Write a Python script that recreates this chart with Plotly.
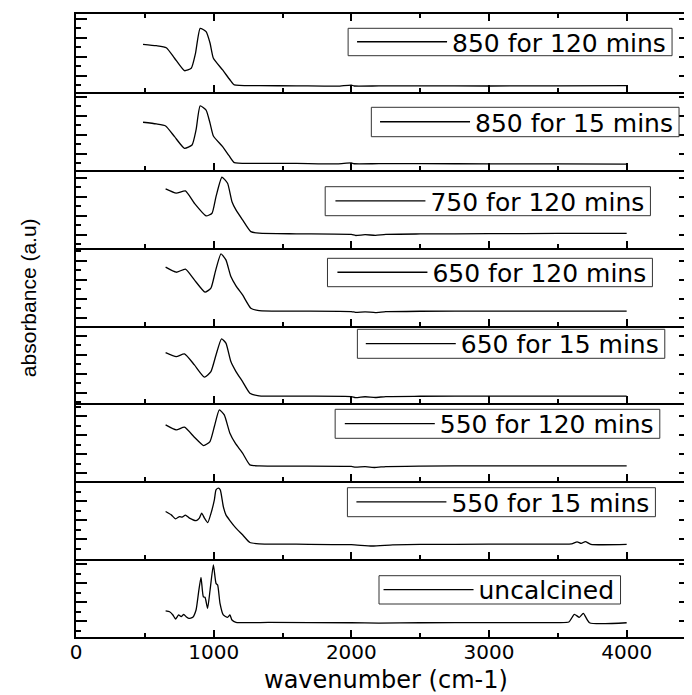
import plotly.graph_objects as go
from plotly.subplots import make_subplots

labels = ["850 for 120 mins", "850 for 15 mins", "750 for 120 mins", "650 for 120 mins",
          "650 for 15 mins", "550 for 120 mins", "550 for 15 mins", "uncalcined"]

wn_850_120 = [487, 583, 656, 716, 788, 837, 868, 902, 945, 974, 998, 1065, 1119, 1150, 1330, 1600, 1900, 2000, 2020, 2200, 2500, 3000, 3500, 4000]
ab_850_120 = [5.01, 4.86, 4.65, 3.54, 2.23, 2.48, 4.06, 6.69, 6.34, 5.12, 3.54, 2.31, 1.25, 0.73, 0.65, 0.64, 0.6, 0.72, 0.62, 0.63, 0.63, 0.62, 0.63, 0.65]

wn_850_15 = [487, 583, 651, 716, 788, 843, 872, 902, 945, 974, 998, 1065, 1113, 1150, 1330, 1600, 1900, 2000, 2020, 2200, 2500, 3000, 3500, 4000]
ab_850_15 = [5.0, 4.82, 4.61, 3.48, 2.26, 2.61, 4.19, 6.72, 6.29, 4.89, 3.56, 2.43, 1.45, 0.75, 0.68, 0.67, 0.62, 0.72, 0.63, 0.64, 0.64, 0.62, 0.62, 0.6]

wn_750_120 = [651, 728, 795, 860, 945, 988, 1017, 1060, 1101, 1133, 1162, 1210, 1270, 1330, 1600, 2000, 2030, 2100, 2175, 2250, 2500, 3000, 3500, 4000]
ab_750_120 = [6.18, 5.73, 5.97, 4.67, 3.34, 3.62, 5.37, 7.41, 6.78, 4.84, 3.97, 2.92, 1.68, 1.52, 1.45, 1.39, 1.28, 1.36, 1.3, 1.4, 1.44, 1.47, 1.49, 1.5]

wn_650_120 = [651, 728, 795, 860, 937, 980, 1012, 1053, 1089, 1125, 1162, 1210, 1270, 1330, 1600, 2000, 2030, 2100, 2175, 2250, 2500, 3000, 3500, 4000]
ab_650_120 = [6.14, 5.61, 5.93, 4.8, 3.51, 3.93, 5.67, 7.54, 6.91, 5.15, 4.17, 3.22, 1.82, 1.57, 1.52, 1.47, 1.38, 1.44, 1.36, 1.45, 1.5, 1.52, 1.52, 1.52]

wn_650_15 = [651, 728, 788, 860, 933, 980, 1017, 1057, 1089, 1125, 1162, 1210, 1263, 1330, 1600, 2000, 2030, 2100, 2175, 2250, 2500, 3000, 3500, 4000]
ab_650_15 = [5.35, 4.93, 5.21, 4.05, 2.76, 3.35, 5.1, 6.79, 6.34, 4.4, 3.35, 2.29, 1.07, 0.79, 0.76, 0.72, 0.6, 0.7, 0.62, 0.72, 0.75, 0.77, 0.77, 0.76]

wn_550_120 = [651, 728, 788, 860, 927, 973, 1005, 1041, 1077, 1118, 1157, 1210, 1263, 1330, 1600, 2000, 2030, 2100, 2175, 2250, 2500, 3000, 3500, 4000]
ab_550_120 = [5.94, 5.41, 5.69, 4.64, 3.76, 4.18, 5.76, 7.52, 6.99, 5.06, 4.01, 2.96, 1.73, 1.62, 1.6, 1.56, 1.48, 1.54, 1.45, 1.55, 1.6, 1.62, 1.62, 1.62]

wn_550_15 = [651, 692, 723, 752, 771, 795, 824, 873, 896, 913, 933, 957, 981, 1005, 1017, 1034, 1048, 1070, 1089, 1118, 1162, 1210, 1263, 1330, 1600, 2000, 2150, 2300, 2500, 3000, 3500, 3600, 3640, 3670, 3700, 3740, 4000]
ab_550_15 = [5.01, 4.66, 4.24, 4.48, 4.42, 4.63, 4.32, 4.06, 4.32, 4.84, 4.32, 3.85, 4.84, 6.24, 7.29, 7.47, 7.29, 5.54, 4.66, 4.06, 3.26, 2.56, 1.75, 1.61, 1.57, 1.52, 1.38, 1.5, 1.55, 1.57, 1.58, 1.6, 1.82, 1.65, 1.85, 1.56, 1.55]

wn_uncal = [651, 680, 704, 723, 745, 764, 783, 800, 819, 848, 872, 891, 908, 925, 937, 956, 974, 998, 1017, 1029, 1046, 1070, 1101, 1118, 1133, 1162, 1400, 2000, 2200, 2500, 3000, 3500, 3580, 3620, 3656, 3685, 3730, 4000]
ab_uncal = [2.74, 2.66, 2.32, 1.89, 2.32, 2.14, 2.39, 2.14, 1.97, 2.07, 2.84, 4.77, 6.28, 4.24, 4.18, 3.02, 4.95, 7.58, 5.65, 5.47, 3.55, 2.32, 2.07, 2.32, 1.79, 1.55, 1.53, 1.5, 1.47, 1.5, 1.52, 1.52, 1.58, 2.39, 2.07, 2.49, 1.5, 1.5]

series = [(wn_850_120, ab_850_120), (wn_850_15, ab_850_15), (wn_750_120, ab_750_120),
          (wn_650_120, ab_650_120), (wn_650_15, ab_650_15), (wn_550_120, ab_550_120),
          (wn_550_15, ab_550_15), (wn_uncal, ab_uncal)]

x_ticks = [0, 1000, 2000, 3000, 4000]

# ---- layout / styling (page pixels of the reference; the browser body adds an 8px margin) ----
BODY = 8
W, H = 692 - BODY, 695 - BODY
PL, PT, PR, PB = 76, 14, 692, 637          # plot area in page pixels
y_tick0 = [1.7, 1.68, 1.36, 0.83, 1.14, 0.85, 0.08, 1.68]
# legend boxes (page px): left, right, top, bottom
boxes = [(349, 674, 28.3, 55.7), (372.3, 681, 107.3, 136.7), (326, 652.3, 186.7, 215.7),
         (328.3, 654.3, 258.3, 286.7), (358.3, 666.7, 329.3, 358.3), (336, 661.7, 409.3, 438.3),
         (348.3, 657.3, 487.7, 516.7), (380, 622.3, 575.7, 604)]

def px2paper_x(px):
    return (px - PL) / (PR - PL)

def px2paper_y(py):
    return (PB - py) / (PB - PT)

FONT = "DejaVu Sans"
n = len(labels)
fig = make_subplots(rows=n, cols=1, shared_xaxes=True, vertical_spacing=0)

for i, (lab, (wx, ay)) in enumerate(zip(labels, series)):
    lname = "legend" if i == 0 else f"legend{i+1}"
    fig.add_trace(go.Scatter(x=wx, y=ay, mode="lines", name=lab,
                             line=dict(color="black", width=1.3, shape="spline", smoothing=0.5),
                             legend=lname, showlegend=True), row=i + 1, col=1)
    bl, br, bt, bb = boxes[i]
    fig.update_layout({lname: dict(x=px2paper_x(br - 1), y=px2paper_y((bt + bb) / 2),
                                   xanchor="right", yanchor="middle",
                                   bgcolor="rgba(0,0,0,0)", borderwidth=0,
                                   itemwidth=90, font=dict(family=FONT, size=25, color="black"),
                                   tracegroupgap=0)})
    fig.add_shape(type="rect", xref="paper", yref="paper",
                  x0=px2paper_x(bl), x1=px2paper_x(br), y0=px2paper_y(bb), y1=px2paper_y(bt),
                  line=dict(color="#333", width=1), fillcolor="rgba(0,0,0,0)", layer="above")
    fig.update_yaxes(range=[0, 8.2], showticklabels=False, ticks="inside", tick0=y_tick0[i], dtick=2,
                     ticklen=11, tickwidth=2, tickcolor="black", showline=True, linecolor="black",
                     linewidth=2, mirror="ticks", showgrid=False, zeroline=False,
                     minor=dict(ticks="inside", tick0=y_tick0[i], dtick=1, ticklen=5, tickwidth=2,
                                tickcolor="black", showgrid=False),
                     row=i + 1, col=1)
    fig.update_xaxes(range=[0, 4460], ticks="inside", tickvals=x_ticks, ticklen=7, tickwidth=2,
                     tickcolor="black", showline=True, linecolor="black", linewidth=2,
                     mirror="ticks" if i == 0 else False, showgrid=False, zeroline=False,
                     showticklabels=(i == n - 1), ticklabelstandoff=-4,
                     tickfont=dict(family=FONT, size=20, color="black"),
                     minor=dict(ticks="inside", dtick=500, tick0=0, ticklen=4, tickwidth=2,
                                tickcolor="black", showgrid=False),
                     row=i + 1, col=1)

fig.add_annotation(text="wavenumber (cm-1)", xref="paper", yref="paper", x=px2paper_x(387),
                   y=px2paper_y(680), xanchor="center", yanchor="middle", showarrow=False,
                   font=dict(family=FONT, size=24, color="black"))
fig.add_annotation(text="absorbance (a.u)", xref="paper", yref="paper", x=px2paper_x(28),
                   y=px2paper_y(298), xanchor="center", yanchor="middle", showarrow=False,
                   textangle=-90,
                   font=dict(family="Liberation Sans, Arial", size=21, color="black"))

fig.update_layout(width=W, height=H,
                  margin=dict(l=PL - BODY, r=0, t=PT - BODY, b=H - (PB - BODY)),
                  plot_bgcolor="white", paper_bgcolor="white")

fig.write_html("out.html")
